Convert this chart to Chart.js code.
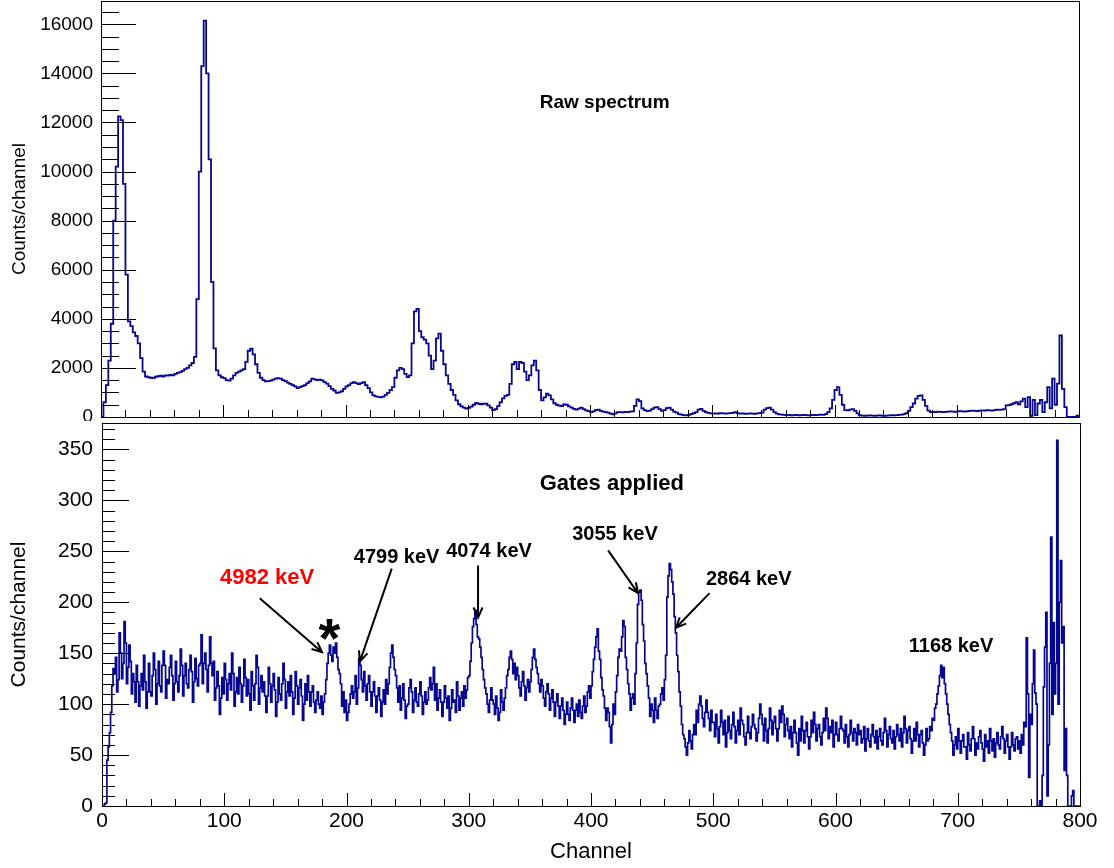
<!DOCTYPE html>
<html>
<head>
<meta charset="utf-8">
<script src="https://cdn.jsdelivr.net/npm/chart.js@4.4.0/dist/chart.umd.min.js"></script>
<style>
  html, body { margin: 0; padding: 0; background: #fff; }
  #wrap { position: relative; width: 1114px; height: 868px; overflow: hidden; }
  #topBox { position: absolute; left: 0; top: 0; width: 1114px; height: 421px; }
  #botBox { position: absolute; left: 0; top: 421px; width: 1114px; height: 447px; background: #fff; }
</style>
</head>
<body>
<div id="wrap">
  <div id="topBox"><canvas id="rawChart" width="1114" height="421"></canvas></div>
  <div id="botBox"><canvas id="gateChart" width="1114" height="447"></canvas></div>
</div>
<script>
// raw spectrum: 2 channels per bin, gated spectrum: 1 channel per bin
var rawBinWidth = 2;
var gatedBinWidth = 1;

// raw spectrum, counts/channel
var rawCounts = [
  0, 600, 1300, 2300, 3800, 8000, 10200, 12250, 12100, 9500,
  5800, 3900, 3700, 3450, 3300, 3000, 2400, 1850, 1650, 1620,
  1600, 1580, 1640, 1660, 1680, 1650, 1700, 1690, 1720, 1700,
  1760, 1800, 1830, 1880, 1950, 2000, 2100, 2200, 2450, 4800,
  10000, 14300, 16150, 14000, 10500, 5500, 2800, 1900, 1700, 1620,
  1580, 1500, 1480, 1560, 1700, 1800, 1850, 1900, 1950, 2250,
  2700, 2780, 2550, 2150, 1800, 1600, 1500, 1450, 1460, 1480,
  1520, 1560, 1580, 1560, 1500, 1460, 1400, 1350, 1300, 1250,
  1180, 1220, 1260, 1300, 1380, 1450, 1560, 1530, 1500, 1520,
  1490, 1420, 1360, 1260, 1150, 1080, 980, 1000, 1050, 1150,
  1250, 1300, 1380, 1420, 1380, 1340, 1380, 1420, 1300, 1180,
  1000, 880, 840, 820, 800, 830, 900, 980, 1100, 1220,
  1600, 1900, 2000, 1950, 1760, 1630, 1700, 3000, 4300, 4400,
  3500, 3250, 3150, 3000, 2500, 1950, 2300, 3200, 3400, 2700,
  2150, 1700, 1350, 1100, 900, 680, 520, 430, 380, 340,
  370, 420, 500, 570, 540, 520, 540, 540, 470, 380,
  280, 320, 440, 600, 760, 860, 900, 1350, 2150, 2240,
  1950, 2240, 2200, 1850, 1500, 1700, 2100, 2300, 1900, 1100,
  680, 800, 950, 880, 720, 560, 500, 460, 440, 510,
  500, 430, 380, 330, 300, 340, 380, 320, 270, 240,
  200, 230, 280, 300, 250, 220, 200, 180, 140, 110,
  150, 200, 200, 190, 210, 200, 220, 230, 450, 720,
  650, 350, 280, 240, 260, 320, 380, 400, 320, 250,
  280, 360, 380, 300, 220, 180, 120, 100, 80, 70,
  90, 120, 160, 200, 300, 330, 250, 200, 170, 150,
  140, 150, 140, 160, 150, 140, 150, 160, 170, 200,
  160, 140, 150, 130, 140, 150, 140, 130, 150, 160,
  180, 300, 360, 380, 300, 200, 140, 110, 100, 90,
  80, 90, 70, 80, 90, 70, 80, 90, 80, 70,
  80, 90, 80, 90, 100, 90, 120, 200, 350, 700,
  1100, 1220, 900, 500, 280, 270, 300, 320, 250, 150,
  80, 60, 50, 60, 70, 60, 50, 60, 70, 60,
  50, 60, 70, 80, 70, 80, 90, 100, 120, 160,
  250, 400, 550, 750, 860, 880, 700, 450, 260, 200,
  210, 200, 220, 210, 200, 210, 220, 230, 220, 210,
  230, 240, 230, 220, 240, 250, 260, 250, 240, 260,
  270, 260, 280, 270, 260, 280, 300, 290, 300, 320,
  470, 480, 520, 560, 600, 520, 640, 750, 400, 810,
  50, 700, 80, 550, 700, 200, 600, 1220, 350, 1560,
  500, 1360, 3320, 1150, 400, 0, 0, 0, 0, 50
];

// gated spectrum, counts/channel (20 channels per row)
var gatedCounts = [
  0, 0, 2, 3, 45, 58, 72, 92, 118, 135, 130, 146, 112, 124, 170, 150, 125, 140, 181, 160,
  120, 136, 158, 142, 110, 130, 122, 102, 138, 122, 98, 118, 130, 114, 148, 122, 96, 112, 140, 112,
  108, 128, 150, 134, 100, 120, 142, 118, 112, 138, 152, 138, 106, 124, 120, 136, 148, 128, 104, 120,
  142, 122, 112, 128, 154, 138, 108, 128, 140, 120, 116, 134, 148, 132, 102, 122, 145, 125, 118, 138,
  140, 168, 120, 140, 150, 134, 112, 138, 166, 140, 128, 142, 104, 116, 132, 118, 90, 106, 126, 110,
  140, 124, 104, 120, 130, 114, 150, 130, 98, 112, 126, 110, 136, 120, 102, 118, 144, 126, 108, 124,
  110, 94, 132, 118, 104, 120, 148, 136, 100, 116, 128, 112, 122, 108, 92, 108, 136, 120, 102, 118,
  130, 114, 88, 102, 126, 110, 104, 120, 140, 124, 96, 112, 122, 108, 128, 112, 90, 106, 132, 118,
  100, 116, 124, 108, 84, 100, 120, 104, 128, 112, 98, 112, 118, 102, 92, 104, 112, 100, 96, 108,
  90, 102, 110, 124, 140, 150, 158, 148, 142, 156, 150, 160, 146, 134, 130, 120, 98, 112, 92, 104,
  84, 92, 100, 110, 118, 106, 112, 128, 100, 116, 145, 138, 124, 112, 132, 118, 104, 120, 128, 112,
  98, 112, 122, 108, 92, 108, 116, 104, 88, 102, 114, 100, 124, 110, 120, 136, 150, 158, 146, 134,
  128, 116, 102, 118, 94, 106, 120, 104, 86, 98, 100, 116, 124, 112, 92, 104, 116, 102, 98, 110,
  122, 108, 90, 102, 112, 100, 104, 116, 126, 114, 120, 136, 104, 120, 94, 106, 114, 102, 88, 102,
  118, 106, 96, 108, 84, 96, 114, 102, 104, 92, 122, 108, 94, 106, 112, 98, 118, 106, 114, 126,
  128, 142, 160, 176, 184, 192, 178, 166, 164, 156, 146, 134, 124, 116, 110, 100, 92, 104, 116, 104,
  100, 90, 108, 96, 84, 92, 114, 102, 94, 106, 116, 128, 134, 146, 152, 144, 130, 140, 124, 136,
  128, 116, 108, 122, 132, 118, 104, 116, 124, 112, 122, 134, 146, 154, 144, 136, 130, 120, 112, 124,
  118, 106, 98, 112, 120, 110, 94, 106, 114, 102, 88, 102, 110, 98, 86, 98, 106, 94, 80, 90,
  102, 90, 84, 96, 106, 94, 82, 94, 100, 88, 104, 92, 86, 98, 108, 92, 98, 112, 118, 106,
  118, 132, 144, 156, 166, 174, 152, 144, 126, 114, 108, 96, 84, 96, 92, 78, 62, 80, 100, 90,
  112, 128, 146, 154, 152, 166, 182, 176, 146, 134, 120, 110, 94, 106, 110, 100, 130, 160, 198, 210,
  212, 202, 178, 162, 140, 130, 118, 106, 88, 100, 94, 82, 106, 94, 86, 98, 100, 110, 116, 104,
  124, 148, 205, 226, 238, 232, 220, 208, 186, 170, 148, 132, 112, 98, 80, 70, 66, 58, 50, 62,
  74, 64, 56, 70, 80, 70, 94, 82, 100, 108, 98, 86, 78, 92, 104, 92, 86, 74, 94, 82,
  82, 68, 90, 76, 62, 78, 94, 82, 70, 84, 58, 72, 88, 74, 66, 80, 92, 78, 62, 74,
  84, 70, 96, 84, 80, 68, 60, 72, 88, 72, 66, 78, 90, 80, 76, 64, 72, 86, 100, 90,
  80, 64, 86, 74, 62, 76, 96, 84, 70, 82, 88, 76, 64, 76, 94, 82, 98, 90, 68, 80,
  86, 74, 66, 78, 58, 72, 84, 72, 62, 50, 76, 64, 88, 74, 62, 74, 82, 68, 56, 68,
  84, 72, 92, 80, 64, 76, 80, 68, 60, 72, 86, 74, 96, 86, 66, 78, 72, 84, 58, 70,
  82, 70, 64, 76, 88, 76, 74, 62, 80, 68, 58, 70, 84, 72, 64, 76, 72, 60, 80, 70,
  74, 62, 66, 78, 54, 66, 76, 64, 58, 70, 80, 68, 62, 74, 56, 68, 76, 64, 60, 72,
  86, 74, 58, 70, 78, 66, 62, 74, 56, 68, 80, 70, 64, 76, 58, 72, 88, 76, 62, 74,
  78, 66, 52, 64, 76, 64, 82, 70, 58, 70, 74, 62, 50, 60, 76, 64, 66, 78, 74, 86,
  84, 96, 100, 110, 118, 128, 138, 126, 136, 120, 110, 100, 90, 80, 72, 64, 50, 60, 68, 56,
  76, 64, 52, 64, 70, 58, 58, 46, 72, 60, 54, 66, 78, 66, 50, 62, 56, 68, 74, 62,
  56, 44, 70, 58, 64, 52, 76, 64, 54, 66, 48, 62, 72, 60, 56, 68, 78, 66, 52, 64,
  70, 58, 46, 58, 72, 60, 54, 66, 68, 56, 64, 52, 70, 60, 82, 78, 165, 110, 28, 90,
  80, 120, 153, 111, 100, 0, 0, 5, 0, 30, 117, 156, 190, 10, 60, 140, 264, 90, 180, 110,
  140, 359, 100, 200, 241, 160, 176, 35, 76, 30, 0, 0, 0, 10, 15, 0, 0, 0, 0, 0
];

var rawTicks = [0, 2000, 4000, 6000, 8000, 10000, 12000, 14000, 16000];
var gatedTicks = [0, 50, 100, 150, 200, 250, 300, 350];
var channelTicks = [0, 100, 200, 300, 400, 500, 600, 700, 800];

var fontFamily = '"Liberation Sans", Arial, Helvetica, sans-serif';
var lineColor = 'rgb(6,6,146)';

Chart.defaults.font.family = fontFamily;
Chart.defaults.color = '#000';

function toPoints(counts, width) {
    var pts = counts.map(function (v, i) { return { x: i * width, y: v }; });
    pts.push({ x: counts.length * width, y: counts[counts.length - 1] });
    return pts;
}

function plainLabel(v) { return String(v); }

// ROOT style frame + ticks drawn inside the frame
function makeFrame(cfg) {
    return {
        id: 'rootFrame',
        afterDraw: function (chart) {
            var ctx = chart.ctx, a = chart.chartArea;
            var xs = chart.scales.x, ys = chart.scales.y;
            ctx.save();
            ctx.strokeStyle = '#000';
            ctx.lineWidth = 1;
            ctx.beginPath();
            for (var v = 0; v <= ys.max; v += cfg.yMinor) {
                var py = Math.round(ys.getPixelForValue(v)) + 0.5;
                var len = (v % cfg.yMajor === 0) ? cfg.yMajorLen : cfg.yMinorLen;
                ctx.moveTo(a.left, py);
                ctx.lineTo(a.left + len, py);
            }
            for (var c = 0; c <= xs.max; c += 20) {
                var px = Math.round(xs.getPixelForValue(c)) + 0.5;
                var l = (c % 100 === 0) ? cfg.xMajorLen : cfg.xMinorLen;
                ctx.moveTo(px, a.bottom);
                ctx.lineTo(px, a.bottom - l);
            }
            ctx.stroke();
            ctx.strokeRect(Math.round(a.left) + 0.5, Math.round(a.top) + 0.5,
                Math.round(a.right - a.left), Math.round(a.bottom - a.top));
            ctx.restore();
        }
    };
}

function drawArrow(ctx, x1, y1, x2, y2) {
    var ang = Math.atan2(y2 - y1, x2 - x1), len = 11, spread = 0.42;
    ctx.beginPath();
    ctx.moveTo(x1, y1);
    ctx.lineTo(x2, y2);
    ctx.moveTo(x2 - len * Math.cos(ang - spread), y2 - len * Math.sin(ang - spread));
    ctx.lineTo(x2, y2);
    ctx.lineTo(x2 - len * Math.cos(ang + spread), y2 - len * Math.sin(ang + spread));
    ctx.stroke();
}

// text labels and arrows, placed in data coordinates
function makeNotes(items) {
    return {
        id: 'notes',
        afterDatasetsDraw: function (chart) {
            var ctx = chart.ctx, xs = chart.scales.x, ys = chart.scales.y;
            ctx.save();
            items.forEach(function (n) {
                var px = xs.getPixelForValue(n.at[0]);
                var py = ys.getPixelForValue(n.at[1]);
                ctx.font = 'bold ' + n.size + 'px ' + fontFamily;
                ctx.fillStyle = n.color || '#000';
                ctx.textAlign = 'center';
                ctx.textBaseline = 'middle';
                ctx.fillText(n.text, px, py);
                if (n.from) {
                    ctx.strokeStyle = '#000';
                    ctx.lineWidth = 2;
                    drawArrow(ctx,
                        xs.getPixelForValue(n.from[0]), ys.getPixelForValue(n.from[1]),
                        xs.getPixelForValue(n.to[0]), ys.getPixelForValue(n.to[1]));
                }
            });
            ctx.restore();
        }
    };
}

function fixedY(width) {
    return function (s) { s.width = width; s.paddingTop = 0; s.paddingBottom = 0; };
}
function fixedX(height) {
    return function (s) { s.height = height; s.paddingLeft = 0; s.paddingRight = 0; };
}

// 原始能譜
function initRawChart() {
    var ctx = document.getElementById('rawChart');
    new Chart(ctx, {
        type: 'line',
        data: {
            datasets: [{
                data: toPoints(rawCounts, rawBinWidth),
                borderColor: lineColor,
                borderWidth: 1.8,
                stepped: 'before',
                pointRadius: 0,
                fill: false
            }]
        },
        options: {
            responsive: false,
            animation: false,
            events: [],
            layout: { padding: { left: 0, right: 35, top: 1, bottom: 0 } },
            plugins: { legend: { display: false }, tooltip: { enabled: false } },
            scales: {
                x: {
                    type: 'linear', min: 0, max: 800,
                    grid: { display: false, drawTicks: false },
                    border: { display: false },
                    ticks: { display: false },
                    afterFit: fixedX(4)
                },
                y: {
                    type: 'linear', min: 0, max: 16950,
                    grid: { display: false, drawTicks: false },
                    border: { display: false },
                    afterBuildTicks: function (s) { s.ticks = rawTicks.map(function (v) { return { value: v }; }); },
                    ticks: { font: { size: 19 }, padding: 8, color: '#000', callback: plainLabel },
                    title: { display: true, text: 'Counts/channel', font: { size: 19 }, padding: { top: 8, bottom: 0 } },
                    afterFit: fixedY(101)
                }
            }
        },
        plugins: [
            makeFrame({ yMinor: 500, yMajor: 2000, yMajorLen: 35, yMinorLen: 18, xMajorLen: 12, xMinorLen: 7 }),
            makeNotes([{ text: 'Raw spectrum', size: 19, at: [412, 12800] }])
        ]
    });
}

// 加閘後能譜
function initGateChart() {
    var ctx = document.getElementById('gateChart');
    new Chart(ctx, {
        type: 'line',
        data: {
            datasets: [{
                data: toPoints(gatedCounts, gatedBinWidth),
                borderColor: lineColor,
                borderWidth: 1.7,
                stepped: 'before',
                pointRadius: 0,
                fill: false
            }]
        },
        options: {
            responsive: false,
            animation: false,
            events: [],
            layout: { padding: { left: 0, right: 34, top: 2, bottom: 0 } },
            plugins: { legend: { display: false }, tooltip: { enabled: false } },
            scales: {
                x: {
                    type: 'linear', min: 0, max: 800,
                    grid: { display: false, drawTicks: false },
                    border: { display: false },
                    afterBuildTicks: function (s) { s.ticks = channelTicks.map(function (v) { return { value: v }; }); },
                    ticks: { font: { size: 21 }, padding: 3, color: '#000', maxRotation: 0, callback: plainLabel },
                    title: { display: true, text: 'Channel', font: { size: 22 }, padding: { top: 0, bottom: 3 } },
                    afterFit: fixedX(62)
                },
                y: {
                    type: 'linear', min: 0, max: 376,
                    grid: { display: false, drawTicks: false },
                    border: { display: false },
                    afterBuildTicks: function (s) { s.ticks = gatedTicks.map(function (v) { return { value: v }; }); },
                    ticks: { font: { size: 21 }, padding: 9, color: '#000', callback: plainLabel },
                    title: { display: true, text: 'Counts/channel', font: { size: 21 }, padding: { top: 7, bottom: 0 } },
                    afterFit: fixedY(102)
                }
            }
        },
        plugins: [
            makeFrame({ yMinor: 10, yMajor: 50, yMajorLen: 27, yMinorLen: 13, xMajorLen: 13, xMinorLen: 7 }),
            makeNotes([
                { text: 'Gates applied', size: 22, at: [417, 316] },
                { text: '4982 keV', size: 22, color: '#ff0000', at: [135, 224], from: [129, 204], to: [180, 151] },
                { text: '*', size: 56, at: [186, 161] },
                { text: '4799 keV', size: 20, at: [241, 244], from: [237, 233], to: [211, 142] },
                { text: '4074 keV', size: 20, at: [316.6, 250], from: [307.6, 236], to: [307.6, 185] },
                { text: '3055 keV', size: 20, at: [419.6, 267], from: [414, 251], to: [438.4, 209] },
                { text: '2864 keV', size: 20, at: [529, 222], from: [497, 209], to: [469.5, 175] },
                { text: '1168 keV', size: 20, at: [694.5, 157] }
            ])
        ]
    });
}

initRawChart();
initGateChart();
</script>
</body>
</html>
